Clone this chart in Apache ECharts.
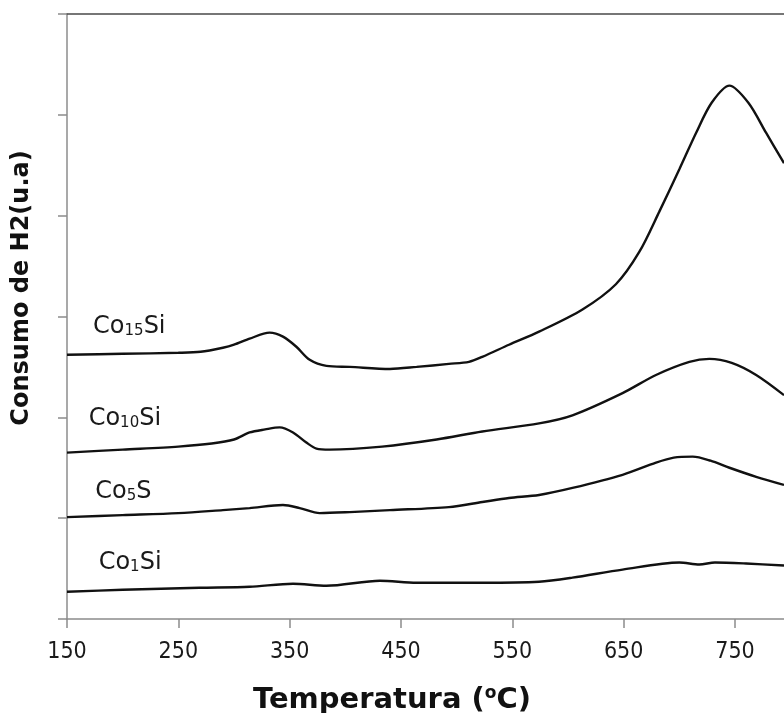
<!DOCTYPE html>
<html>
<head>
<meta charset="utf-8">
<script src="https://cdn.jsdelivr.net/npm/echarts@6/dist/echarts.min.js"></script>
<style>
  html, body { margin: 0; padding: 0; background: #fff; }
  #tpr-chart-div { width: 784px; height: 713px; }
</style>
</head>
<body>
<div id="tpr-chart-div"></div>
<script>
// temperature (C) and H2 consumption (a.u.)
var co15_temp = [150, 200, 250, 270, 290, 300, 314, 332, 344, 356, 368, 383, 404, 440, 464, 493, 511, 523, 547, 574, 613, 643, 664, 682, 700, 715, 729, 745, 762, 778, 794];
var co15_h2 = [2.62, 2.63, 2.64, 2.65, 2.69, 2.72, 2.78, 2.84, 2.80, 2.70, 2.57, 2.51, 2.50, 2.48, 2.50, 2.53, 2.55, 2.60, 2.72, 2.85, 3.07, 3.32, 3.64, 4.04, 4.46, 4.82, 5.12, 5.29, 5.12, 4.82, 4.52];

var co10_temp = [150, 200, 250, 280, 300, 314, 328, 341, 353, 365, 374, 386, 433, 482, 523, 574, 604, 649, 679, 709, 727, 747, 769, 794];
var co10_h2 = [1.65, 1.68, 1.71, 1.74, 1.78, 1.85, 1.88, 1.90, 1.85, 1.75, 1.69, 1.68, 1.71, 1.78, 1.86, 1.94, 2.02, 2.24, 2.42, 2.55, 2.58, 2.54, 2.42, 2.22];

var co5_temp = [150, 200, 250, 290, 314, 344, 359, 377, 404, 440, 493, 523, 547, 574, 604, 649, 679, 695, 712, 728, 745, 769, 794];
var co5_h2 = [1.01, 1.03, 1.05, 1.08, 1.10, 1.13, 1.10, 1.05, 1.06, 1.08, 1.11, 1.16, 1.20, 1.23, 1.30, 1.43, 1.55, 1.60, 1.61, 1.57, 1.50, 1.41, 1.33];

var co1_temp = [150, 200, 269, 314, 353, 383, 431, 464, 523, 574, 604, 649, 700, 718, 732, 760, 794];
var co1_h2 = [0.27, 0.29, 0.31, 0.32, 0.35, 0.33, 0.38, 0.36, 0.36, 0.37, 0.41, 0.49, 0.56, 0.54, 0.56, 0.55, 0.53];

var series_names = ['Co15Si', 'Co10Si', 'Co5S', 'Co1Si'];
var series_labels = ['{a|Co}{s|15}{a|Si}', '{a|Co}{s|10}{a|Si}', '{a|Co}{s|5}{a|S}', '{a|Co}{s|1}{a|Si}'];
// where each curve name sits, in data units
var label_temp = [173, 169, 175, 178];
var label_h2 = [2.90, 1.99, 1.26, 0.555];

var x_ticks = [150, 250, 350, 450, 550, 650, 750];

function pairs(xs, ys) {
    var out = [];
    for (var i = 0; i < xs.length; i++) out.push([xs[i], ys[i]]);
    return out;
}

var all_temp = [co15_temp, co10_temp, co5_temp, co1_temp];
var all_h2 = [co15_h2, co10_h2, co5_h2, co1_h2];

var tpr_chartDom = document.getElementById('tpr-chart-div');
var tpr_myChart = echarts.init(tpr_chartDom);
var tpr_option;

var tpr_series = [];
for (var k = 0; k < series_names.length; k++) {
    tpr_series.push({
        name: series_names[k],
        type: 'line',
        smooth: 0.3,
        showSymbol: false,
        lineStyle: { color: '#111', width: 2.4 },
        data: pairs(all_temp[k], all_h2[k]),
        markPoint: {
            symbol: 'circle',
            symbolSize: 1,
            itemStyle: { color: 'rgba(0,0,0,0)' },
            label: {
                show: true,
                position: 'right',
                distance: 0,
                color: '#1a1a1a',
                formatter: series_labels[k],
                rich: {
                    a: { fontFamily: 'DejaVu Sans', fontSize: 24, lineHeight: 24, color: '#1a1a1a' },
                    s: { fontFamily: 'DejaVu Sans', fontSize: 15, lineHeight: 10, verticalAlign: 'bottom', color: '#1a1a1a' }
                }
            },
            data: [{ coord: [label_temp[k], label_h2[k]] }]
        }
    });
}

tpr_option = {
    animation: false,
    backgroundColor: '#fff',
    grid: { left: 67, right: 0, top: 14, bottom: 94 },
    xAxis: [
        {
            type: 'value',
            min: 150,
            max: 794,
            interval: 100,
            axisLine: { lineStyle: { color: '#8c8c8c', width: 1.5 } },
            axisTick: { show: true, length: 9, lineStyle: { color: '#8c8c8c', width: 1.5 } },
            splitLine: { show: false },
            axisLabel: {
                margin: 22,
                showMaxLabel: false,
                fontFamily: 'DejaVu Sans Condensed, DejaVu Sans',
                fontSize: 23,
                color: '#1a1a1a',
                formatter: function (v) {
                    return x_ticks.indexOf(v) >= 0 ? String(v) : '';
                }
            }
        },
        {
            type: 'value',
            position: 'top',
            min: 150,
            max: 794,
            axisLine: { show: true, lineStyle: { color: '#4a4a4a', width: 1.5 } },
            axisTick: { show: false },
            axisLabel: { show: false },
            splitLine: { show: false }
        }
    ],
    yAxis: {
        type: 'value',
        min: 0,
        max: 6,
        interval: 1,
        axisLine: { show: true, lineStyle: { color: '#8c8c8c', width: 1.5 } },
        axisTick: { show: true, length: 9, lineStyle: { color: '#8c8c8c', width: 1.5 } },
        axisLabel: { show: false },
        splitLine: { show: false }
    },
    graphic: [
        {
            type: 'text',
            x: 22,
            y: 288,
            rotation: Math.PI / 2,
            style: {
                text: 'Consumo de H2(u.a)',
                font: 'bold 24px "DejaVu Sans"',
                fill: '#111',
                align: 'center',
                verticalAlign: 'middle'
            }
        },
        {
            type: 'text',
            x: 392,
            y: 700,
            style: {
                text: '{t|Temperatura (}{o|o}{t|C)}',
                fill: '#111',
                align: 'center',
                verticalAlign: 'middle',
                rich: {
                    t: { fontFamily: 'DejaVu Sans', fontWeight: 'bold', fontSize: 29, lineHeight: 30 },
                    o: { fontFamily: 'DejaVu Sans', fontWeight: 'bold', fontSize: 17, lineHeight: 30, verticalAlign: 'top', padding: [0, 0, 12, 0] }
                }
            }
        }
    ],
    series: tpr_series
};

if (tpr_option && typeof tpr_option === 'object') {
    tpr_myChart.setOption(tpr_option);
}
</script>
</body>
</html>
